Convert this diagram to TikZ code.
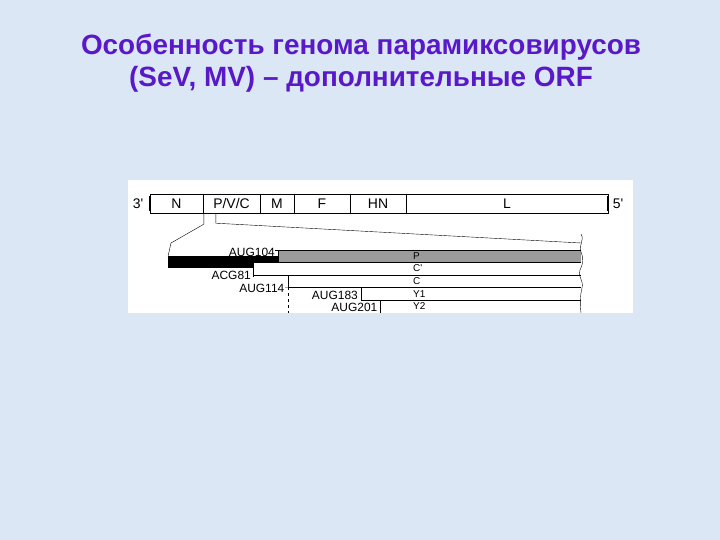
\documentclass[tikz,border=0pt]{standalone}
\usepackage{fontspec}
\setmainfont{Liberation Sans}
\definecolor{slidebg}{RGB}{220,231,246}
\definecolor{titlecol}{RGB}{90,25,200}
\definecolor{orfgrey}{RGB}{155,155,155}
\begin{document}
\begin{tikzpicture}[x = 1bp, y = -1bp,
  seg/.style = {draw, fill = white, inner sep = 0, minimum height = 19bp,
                font = \fontsize{14}{14}\selectfont},
  orf/.style = {font = \fontsize{12}{12}\selectfont, inner sep = 0},
  tag/.style = {font = \fontsize{10}{10}\selectfont, inner sep = 0, anchor = west}]
\fill[slidebg] (0, 0) rectangle (720, 540);
\useasboundingbox (0, 0) rectangle (720, 540);
\node[font = \fontsize{28}{32}\selectfont\bfseries, text = titlecol, align = center]
  (title) at (361, 63) {Особенность генома парамиксовирусов\\(SeV, MV) -- дополнительные ORF};
\fill[white] (128, 180) rectangle (633, 313);
% genome
\node[seg, minimum width = 53bp] (n) at (176.5, 203.5) {N};
\node[seg, minimum width = 57bp] (pvc) at (231.5, 203.5) {P/V/C};
\node[seg, minimum width = 34bp] (m) at (277, 203.5) {M};
\node[seg, minimum width = 56bp] (f) at (322, 203.5) {F};
\node[seg, minimum width = 56bp] (hn) at (378, 203.5) {HN};
\node[seg, minimum width = 202bp] (l) at (507, 203.5) {L};
\fill (148.5, 196) rectangle (151, 211);
\fill (606.5, 196) rectangle (609, 211);
\node[seg, draw = none, fill = none] (e3) at (138, 203.5) {3\textquotesingle};
\node[seg, draw = none, fill = none] (e5) at (618, 203.5) {5\textquotesingle};
% zoom lines
\coordinate (zl) at (168, 256.5);
\coordinate (zr) at (581, 243);
\draw ([xshift = 1bp]pvc.south west) -- ++(0, 11) -- (171, 243) -- (zl);
\draw ([xshift = 13bp]pvc.south west) -- ++(0, 10) -- (zr);
% reading frames
\fill (zl) rectangle (278, 268);
\filldraw[fill = orfgrey] (581, 250) -- (278, 250) -- (278, 262.5) -- (581, 262.5);
\filldraw[fill = white] (581, 262.5) -- (253, 262.5) -- (253, 275) -- (581, 275);
\draw (581, 275) -- (288, 275) -- (288, 287.5) -- (581, 287.5);
\draw (581, 287.5) -- (361, 287.5) -- (361, 300) -- (581, 300);
\draw (380, 313) -- (380, 300);
\draw[dashed] (288, 287.5) -- (288, 313);
\draw[white, line width = 3bp] (583.5, 234) -- (583.5, 313);
\draw (581, 234) .. controls (585, 240) and (578, 246) .. (581, 252)
  .. controls (584, 258) and (583, 264) .. (580, 270)
  .. controls (577, 276) and (584, 280) .. (582, 288)
  .. controls (580, 296) and (580, 304) .. (581, 313);
% start codons
\node[orf, anchor = east] (aug104) at (275, 252) {AUG104};
\draw (aug104.east) ++(0, -2) -- (278, 250);
\node[orf, anchor = east] (acg81) at (251, 275.5) {ACG81};
\draw (253, 275) -- (253, 277);
\node[orf, anchor = east] (aug114) at (284.5, 288) {AUG114};
\draw (aug114.east) ++(0.5, -0.5) -- (288, 287.5);
\node[orf, anchor = east] (aug183) at (358, 295) {AUG183};
\node[orf, anchor = east] (aug201) at (377.5, 307) {AUG201};
% proteins
\node[tag] (p) at (413, 256) {P};
\node[tag] (cp) at (413, 268.5) {C\textquotesingle};
\node[tag] (c) at (413, 281) {C};
\node[tag] (y1) at (413, 294) {Y1};
\node[tag] (y2) at (413, 306.5) {Y2};
\end{tikzpicture}
\end{document}
